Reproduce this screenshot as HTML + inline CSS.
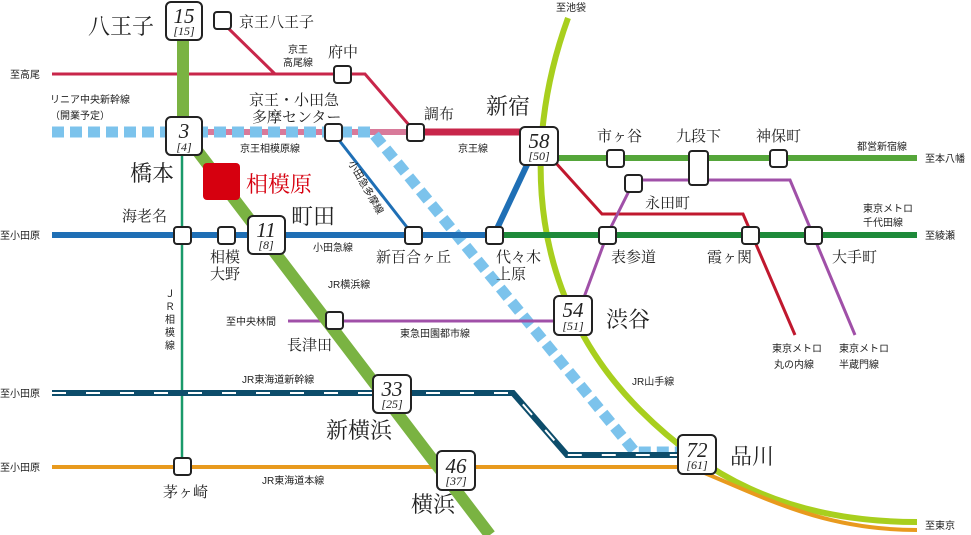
<!DOCTYPE html>
<html><head><meta charset="utf-8"><style>
html,body{margin:0;padding:0;background:#fff;}
svg{display:block;font-family:"Liberation Serif","Noto Serif CJK SC","Noto Sans CJK JP",serif;}
.s{font-size:10px;font-family:"Liberation Sans","Noto Sans CJK JP",sans-serif;fill:#222;}
.m{font-size:15px;fill:#222;}
.l{font-size:22px;fill:#222;}
.n{font-size:21px;font-style:italic;fill:#222;font-family:"Liberation Serif",serif;}
.n2{font-size:12px;font-style:italic;fill:#222;font-family:"Liberation Serif",serif;}
</style></head><body>
<svg width="971" height="535" viewBox="0 0 971 535" xmlns="http://www.w3.org/2000/svg">
<path d="M568,18 C520,150 530,300 640,410 C700,470 780,522 917,522" fill="none" stroke="#a8cf1e" stroke-width="6"/>
<path d="M52,467 H690 C760,495 820,530 917,530" fill="none" stroke="#e89a1e" stroke-width="4"/>
<line x1="182" y1="150" x2="182" y2="467" stroke="#1a9a6a" stroke-width="2.5"/>
<path d="M52,74 H365 L415,132" fill="none" stroke="#c8264a" stroke-width="3"/>
<line x1="228" y1="28" x2="275" y2="74" stroke="#c8264a" stroke-width="3"/>
<line x1="415" y1="132" x2="525" y2="132" stroke="#c8264a" stroke-width="7"/>
<line x1="200" y1="132" x2="415" y2="132" stroke="#d87a9a" stroke-width="6"/>
<path d="M52,132 H372 L635,452 H685" fill="none" stroke="#7cc3ec" stroke-width="11" stroke-dasharray="12,6"/>
<line x1="52" y1="235" x2="494" y2="235" stroke="#1f6fb5" stroke-width="6"/>
<line x1="494" y1="235" x2="534" y2="150" stroke="#1f6fb5" stroke-width="6"/>
<line x1="335" y1="135" x2="413" y2="235" stroke="#1f6fb5" stroke-width="3"/>
<line x1="494" y1="235" x2="917" y2="235" stroke="#1e8a3a" stroke-width="6"/>
<line x1="555" y1="158" x2="917" y2="158" stroke="#55a63a" stroke-width="6"/>
<path d="M555,162 L602,214 H743 L795,335" fill="none" stroke="#c0182e" stroke-width="3"/>
<path d="M583,300 L607,235 L633,183 L640,180 H790 L855,335" fill="none" stroke="#a050a8" stroke-width="3"/>
<line x1="288" y1="321" x2="560" y2="321" stroke="#a050a8" stroke-width="3"/>
<path d="M52,393 H513 L567,455 H685" fill="none" stroke="#0d4d6b" stroke-width="6"/>
<path d="M52,393 H513 L567,455 H685" fill="none" stroke="#fff" stroke-width="2" stroke-dasharray="14,20"/>
<path d="M183,30 V132 L490,535" fill="none" stroke="#7ab342" stroke-width="12"/>
<g fill="#fff" stroke="#222" stroke-width="2">
<rect x="214" y="12" width="17" height="17" rx="3"/>
<rect x="334" y="66" width="17" height="17" rx="3"/>
<rect x="407" y="124" width="17" height="17" rx="3"/>
<rect x="325" y="124" width="17" height="17" rx="3"/>
<rect x="174" y="227" width="17" height="17" rx="3"/>
<rect x="218" y="227" width="17" height="17" rx="3"/>
<rect x="405" y="227" width="17" height="17" rx="3"/>
<rect x="486" y="227" width="17" height="17" rx="3"/>
<rect x="599" y="227" width="17" height="17" rx="3"/>
<rect x="742" y="227" width="17" height="17" rx="3"/>
<rect x="805" y="227" width="17" height="17" rx="3"/>
<rect x="607" y="150" width="17" height="17" rx="3"/>
<rect x="770" y="150" width="17" height="17" rx="3"/>
<rect x="689" y="151" width="19" height="34" rx="3"/>
<rect x="625" y="175" width="17" height="17" rx="3"/>
<rect x="326" y="312" width="17" height="17" rx="3"/>
<rect x="174" y="458" width="17" height="17" rx="3"/>
<rect x="166" y="2" width="36" height="38" rx="5"/>
<rect x="166" y="117" width="36" height="38" rx="5"/>
<rect x="248" y="216" width="37" height="38" rx="5"/>
<rect x="520" y="127" width="38" height="38" rx="5"/>
<rect x="554" y="296" width="38" height="39" rx="5"/>
<rect x="373" y="375" width="38" height="38" rx="5"/>
<rect x="437" y="451" width="38" height="39" rx="5"/>
<rect x="678" y="435" width="38" height="39" rx="5"/>
</g>
<rect x="203" y="163" width="37" height="37" rx="4" fill="#d6000f"/>
<g text-anchor="middle">
<text class="n" x="184" y="23">15</text><text class="n2" x="184" y="35">[15]</text>
<text class="n" x="184" y="138">3</text><text class="n2" x="184" y="151">[4]</text>
<text class="n" x="266" y="237">11</text><text class="n2" x="266" y="249">[8]</text>
<text class="n" x="539" y="148">58</text><text class="n2" x="539" y="160">[50]</text>
<text class="n" x="573" y="317">54</text><text class="n2" x="573" y="330">[51]</text>
<text class="n" x="392" y="396">33</text><text class="n2" x="392" y="408">[25]</text>
<text class="n" x="456" y="473">46</text><text class="n2" x="456" y="485">[37]</text>
<text class="n" x="697" y="457">72</text><text class="n2" x="697" y="469">[61]</text>
</g>
<text class="l" x="88" y="34">八王子</text>
<text class="l" x="130" y="181">橋本</text>
<text class="l" x="246" y="192" style="fill:#d6000f">相模原</text>
<text class="l" x="291" y="224">町田</text>
<text class="l" x="486" y="114">新宿</text>
<text class="l" x="606" y="327">渋谷</text>
<text class="l" x="326" y="438">新横浜</text>
<text class="l" x="411" y="512">横浜</text>
<text class="l" x="730" y="464">品川</text>
<g class="m">
<text x="239" y="27">京王八王子</text>
<text x="328" y="57">府中</text>
<text x="249" y="105">京王・小田急</text>
<text x="252" y="122">多摩センター</text>
<text x="424" y="119">調布</text>
<text x="122" y="221">海老名</text>
<text x="210" y="262">相模</text><text x="210" y="279">大野</text>
<text x="376" y="262">新百合ヶ丘</text>
<text x="496" y="262">代々木</text><text x="496" y="279">上原</text>
<text x="611" y="262">表参道</text>
<text x="707" y="262">霞ヶ関</text>
<text x="832" y="262">大手町</text>
<text x="597" y="141">市ヶ谷</text>
<text x="676" y="141">九段下</text>
<text x="756" y="141">神保町</text>
<text x="645" y="208">永田町</text>
<text x="287" y="350">長津田</text>
<text x="163" y="497">茅ヶ崎</text>
</g>
<g class="s">
<text x="10" y="78">至高尾</text>
<text x="50" y="103">リニア中央新幹線</text>
<text x="50" y="119">（開業予定）</text>
<text x="288" y="53">京王</text><text x="283" y="66">高尾線</text>
<text x="240" y="152">京王相模原線</text>
<text x="458" y="152">京王線</text>
<text x="0" y="239">至小田原</text>
<text x="313" y="251">小田急線</text>
<text x="556" y="11">至池袋</text>
<text x="857" y="150">都営新宿線</text>
<text x="925" y="162">至本八幡</text>
<text x="863" y="212">東京メトロ</text><text x="863" y="226">千代田線</text>
<text x="925" y="239">至綾瀬</text>
<text x="328" y="288">JR横浜線</text>
<text x="226" y="325">至中央林間</text>
<text x="400" y="337">東急田園都市線</text>
<text x="0" y="397">至小田原</text>
<text x="242" y="383">JR東海道新幹線</text>
<text x="0" y="471">至小田原</text>
<text x="262" y="484">JR東海道本線</text>
<text x="632" y="385">JR山手線</text>
<text x="772" y="352">東京メトロ</text><text x="774" y="368">丸の内線</text>
<text x="839" y="352">東京メトロ</text><text x="839" y="368">半蔵門線</text>
<text x="925" y="529">至東京</text>
<text x="165" y="297">Ｊ</text><text x="165" y="310">Ｒ</text><text x="165" y="323">相</text><text x="165" y="336">模</text><text x="165" y="349">線</text>
<text transform="translate(348,163) rotate(60)">小田急多摩線</text>
</g>
</svg>
</body></html>
